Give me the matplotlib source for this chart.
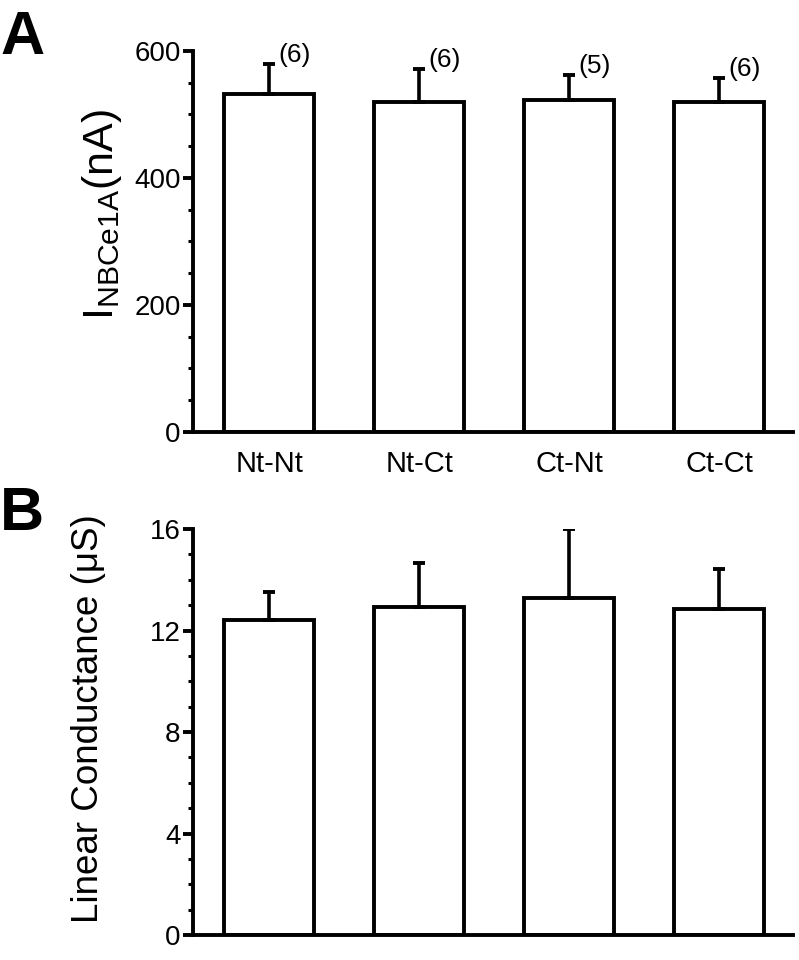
import matplotlib

matplotlib.use("Agg")
import matplotlib.pyplot as plt
import numpy as np
from matplotlib.ticker import MultipleLocator

# data
groups = ["Nt-Nt", "Nt-Ct", "Ct-Nt", "Ct-Ct"]
current_mean = [532, 520, 523, 520]
current_sem = [48, 52, 39, 37]
n_cells = ["(6)", "(6)", "(5)", "(6)"]
conduct_mean = [12.40, 12.91, 13.27, 12.83]
conduct_sem = [1.10, 1.74, 2.75, 1.58]

plt.rcParams["font.family"] = ["Liberation Sans", "DejaVu Sans"]
plt.rcParams["mathtext.fontset"] = "custom"
plt.rcParams["mathtext.rm"] = "Liberation Sans"

LW = 2.8
x = np.arange(len(groups))

fig = plt.figure(figsize=(7.99, 9.60), dpi=100)
ax_a = fig.add_axes([0.2416, 0.55, 0.751, 0.3969])
ax_b = fig.add_axes([0.2416, 0.026, 0.751, 0.4229])


def draw_bars(ax, means, sems):
    ax.bar(x, means, width=0.6, color="white", edgecolor="black",
           linewidth=LW, zorder=2)
    ax.errorbar(x, means, yerr=[np.zeros(len(means)), sems], fmt="none",
                ecolor="black", elinewidth=2.6, capsize=4.5, capthick=LW,
                zorder=3)
    ax.set_xlim(-0.507, 3.493)
    for side in ["top", "right"]:
        ax.spines[side].set_visible(False)
    for side in ["left", "bottom"]:
        ax.spines[side].set_linewidth(LW)
    ax.tick_params(axis="y", which="major", direction="out", length=7,
                   width=LW, labelsize=20, pad=2)
    ax.tick_params(axis="y", which="minor", direction="out", length=3.5,
                   width=2.2)
    ax.tick_params(axis="x", length=0)


# step 1. panel A, current
draw_bars(ax_a, current_mean, current_sem)
ax_a.set_ylim(0, 600)
ax_a.yaxis.set_major_locator(MultipleLocator(200))
ax_a.yaxis.set_minor_locator(MultipleLocator(50))
ax_a.set_xticks(x)
ax_a.set_xticklabels(groups, fontsize=21)
ax_a.tick_params(axis="x", pad=13)
for i in range(len(groups)):
    ax_a.annotate(n_cells[i], xy=(x[i], current_mean[i] + current_sem[i]),
                  xytext=(6.5, 6.5), textcoords="offset points",
                  ha="left", va="center", fontsize=19)
ax_a.set_ylabel(r"$\mathrm{I}_{\mathrm{NBCe1A}}\mathrm{(nA)}$", fontsize=31)
ax_a.yaxis.set_label_coords(-0.115, 0.572)

# step 2. panel B, conductance
draw_bars(ax_b, conduct_mean, conduct_sem)
ax_b.set_ylim(0, 16)
ax_b.yaxis.set_major_locator(MultipleLocator(4))
ax_b.yaxis.set_minor_locator(MultipleLocator(1))
ax_b.set_xticks([])
ax_b.set_ylabel("Linear Conductance (\u03bcS)", fontsize=26.5)
ax_b.yaxis.set_label_coords(-0.145, 0.534)

fig.text(0.0, 0.99, "A", fontsize=44, fontweight="bold", ha="left", va="top")
fig.text(0.0, 0.494, "B", fontsize=44, fontweight="bold", ha="left", va="top")

fig.savefig("out.png", dpi=100)
